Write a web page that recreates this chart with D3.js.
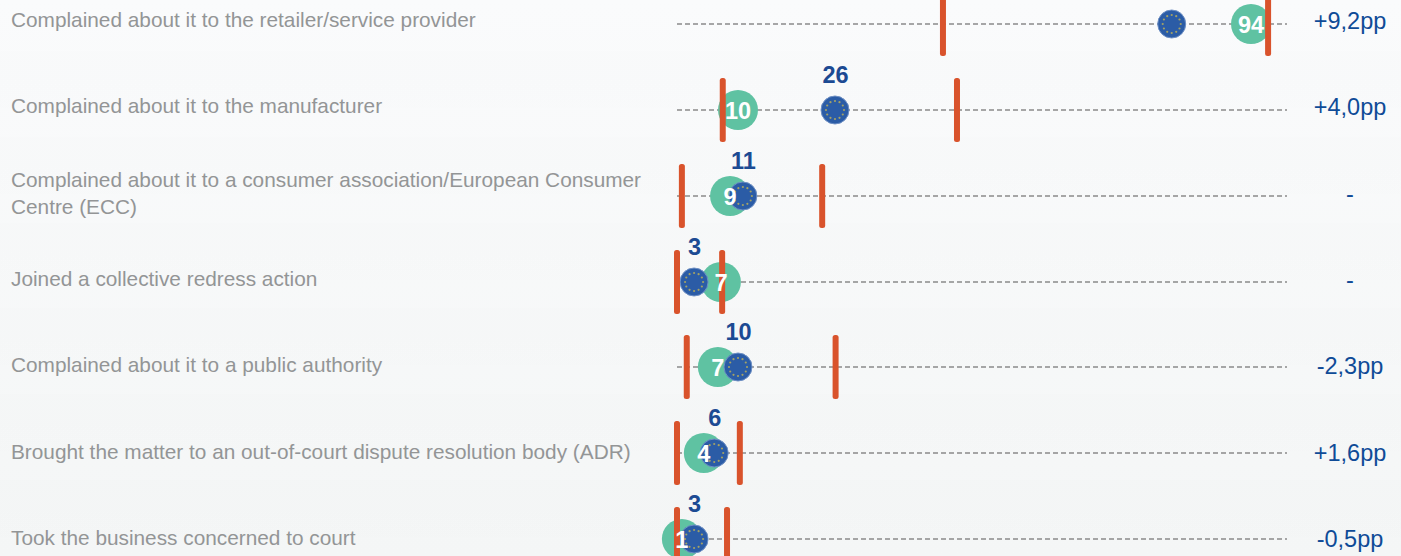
<!DOCTYPE html>
<html>
<head>
<meta charset="utf-8">
<script src="https://cdn.jsdelivr.net/npm/d3@7"></script>
<style>
  html, body { margin: 0; padding: 0; background: #f7f9fa; overflow: hidden; }
  svg { display: block; font-family: "Liberation Sans", Arial, sans-serif; }
  .label { fill: #939596; font-size: 20.8px; }
  .delta { fill: #0f4b97; font-size: 23.5px; text-anchor: middle; }
  .eu-value { fill: #1c4a93; font-size: 23.5px; font-weight: bold; text-anchor: middle; }
  .own-value { fill: #fff; font-size: 23.5px; font-weight: bold; text-anchor: middle; }
</style>
</head>
<body>
<div id="chart"></div>
<script>
const categories = [
  ["Complained about it to the retailer/service provider"],
  ["Complained about it to the manufacturer"],
  ["Complained about it to a consumer association/European Consumer", "Centre (ECC)"],
  ["Joined a collective redress action"],
  ["Complained about it to a public authority"],
  ["Brought the matter to an out-of-court dispute resolution body (ADR)"],
  ["Took the business concerned to court"]
];
const countryValues = [94.1, 10, 8.7, 7.2, 6.7, 4.4, 0.8];
const euValues = [81.1, 25.9, 10.8, 2.8, 10, 6.1, 2.8];
// the first EU label sits above the visible area in the reference
const euLabels = [null, "26", "11", "3", "10", "6", "3"];
const rangeLow = [43.6, 7.5, 0.8, 0, 1.6, 0, 0];
const rangeHigh = [96.9, 45.9, 23.8, 7.4, 26, 10.3, 8.2];
const deltas = ["+9,2pp", "+4,0pp", "-", "-", "-2,3pp", "+1,6pp", "-0,5pp"];

const width = 1401;
const height = 556;

const rows = categories.map((label, i) => ({
  label,
  own: countryValues[i],
  eu: euValues[i],
  euLabel: euLabels[i],
  low: rangeLow[i],
  high: rangeHigh[i],
  delta: deltas[i]
}));

const x = d3.scaleLinear().domain([0, 100]).range([677, 1287]);
const y = d3.scalePoint().domain(d3.range(rows.length)).range([24, 539]);
// text columns drift slightly from the dashed rows in the original
const textY = d3.scalePoint().domain(d3.range(rows.length)).range([27, 545]);
const format = d3.format(".0f");

const svg = d3.select("#chart").append("svg").attr("width", width).attr("height", height);

const defs = svg.append("defs");
const bg = defs.append("linearGradient").attr("id", "bg").attr("x1", 0).attr("y1", 0).attr("x2", 0).attr("y2", 1);
bg.append("stop").attr("offset", "0%").attr("stop-color", "#fafbfc");
bg.append("stop").attr("offset", "100%").attr("stop-color", "#f4f6f6");
const band = defs.append("linearGradient").attr("id", "band").attr("x1", 0).attr("y1", 0).attr("x2", 0).attr("y2", 1);
band.append("stop").attr("offset", "0%").attr("stop-color", "#000").attr("stop-opacity", 0.006);
band.append("stop").attr("offset", "100%").attr("stop-color", "#000").attr("stop-opacity", 0);

svg.append("rect").attr("width", width).attr("height", height).attr("fill", "url(#bg)");
svg
  .selectAll(".band")
  .data(rows)
  .join("rect")
  .attr("class", "band")
  .attr("y", (d, i) => y(i) + 27)
  .attr("width", width)
  .attr("height", y.step())
  .attr("fill", "url(#band)");

const row = svg
  .selectAll(".row")
  .data(rows)
  .join("g")
  .attr("class", "row")
  .attr("transform", (d, i) => `translate(0,${Math.round(y(i))})`);

row
  .append("line")
  .attr("x1", x(0))
  .attr("x2", x(100))
  .attr("stroke", "#8a8a8a")
  .attr("stroke-width", 1.3)
  .attr("stroke-dasharray", "5,3");

row
  .append("circle")
  .attr("cx", (d) => x(d.own))
  .attr("r", 20)
  .attr("fill", "#5fc2a2");

// EU flag badge: blue disc with a ring of twelve stars
const eu = row.append("g").attr("transform", (d) => `translate(${x(d.eu)},0)`);
eu.append("circle").attr("r", 14).attr("fill", "#2b5ca6").attr("stroke", "#6f90c4").attr("stroke-width", 1);
eu.selectAll(".star")
  .data(d3.range(12))
  .join("circle")
  .attr("class", "star")
  .attr("cx", (k) => 9 * Math.cos((k * Math.PI) / 6))
  .attr("cy", (k) => 9 * Math.sin((k * Math.PI) / 6))
  .attr("r", 1.1)
  .attr("fill", "#a3a266");

["low", "high"].forEach((key) => {
  row
    .append("rect")
    .attr("x", (d) => x(d[key]) - 3)
    .attr("y", -32)
    .attr("width", 6)
    .attr("height", 64)
    .attr("rx", 2.5)
    .attr("fill", "#d9532c");
});

row
  .filter((d) => d.euLabel)
  .append("text")
  .attr("class", "eu-value")
  .attr("x", (d) => x(d.eu) + 0.5)
  .attr("y", -27.5)
  .text((d) => d.euLabel);

row
  .append("text")
  .attr("class", "own-value")
  .attr("x", (d) => x(d.own))
  .attr("y", 9)
  .text((d) => format(d.own));

svg
  .selectAll(".delta")
  .data(rows)
  .join("text")
  .attr("class", "delta")
  .attr("x", 1350)
  .attr("y", (d, i) => textY(i) + 2)
  .text((d) => d.delta);

const label = svg
  .selectAll(".label")
  .data(rows)
  .join("text")
  .attr("class", "label");
label
  .selectAll("tspan")
  .data((d, i) => d.label.map((line) => ({ line, n: d.label.length, base: textY(i) })))
  .join("tspan")
  .attr("x", 11)
  .attr("y", (d, i) => (d.n > 1 ? d.base - 13 + i * 27 : d.base))
  .text((d) => d.line);
</script>
</body>
</html>
